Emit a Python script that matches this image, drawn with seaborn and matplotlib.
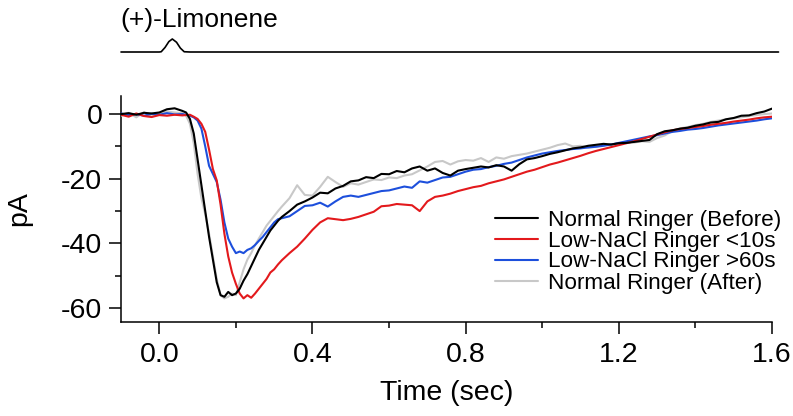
import matplotlib
matplotlib.use("Agg")
import matplotlib.pyplot as plt
import seaborn as sns
import pandas as pd
import numpy as np

# sampling times (sec): coarse baseline, fine during the fast drop, coarse recovery
t_base = [-0.10, -0.08, -0.06, -0.04, -0.02, 0.00, 0.02, 0.04, 0.06]
t_fast = [0.07, 0.08, 0.09, 0.10, 0.11, 0.12, 0.13, 0.14, 0.15, 0.16, 0.17, 0.18, 0.19,
          0.20, 0.21, 0.22, 0.23, 0.24, 0.25, 0.26, 0.27, 0.28, 0.29, 0.30, 0.31]
t_slow = list(np.round(np.arange(0.32, 1.6001, 0.02), 2))
t = t_base + t_fast + t_slow

# Normal Ringer (Before) - black
before = [0.0, 0.3, -0.2, 0.4, 0.2, 0.5, 1.5, 1.8, 1.0,
          0.5, -1.5, -6, -14, -22, -30, -38, -45, -52, -56, -56.5, -55, -56,
          -55.5, -54, -51.5, -49.5, -47, -44.5, -42, -40, -38, -36, -34.5, -33,
          -31.8, -30, -28, -27, -25.8, -24.3, -24.5, -23, -22.2, -20.8, -20.5, -19.5,
          -19.8, -18.5, -18.6, -17.6, -18, -16.8, -16.2, -17.5, -16.8, -18.2, -19,
          -17.5, -17, -16.6, -16.2, -16.5, -15.8, -16.2, -17.5, -15.5, -14, -13.6,
          -13, -12.3, -11.8, -11.2, -10.6, -10.3, -9.8, -9.5, -9.2, -9.4, -9.0, -8.9,
          -8.6, -8.3, -8.0, -6.2, -5.3, -5.0, -4.5, -4.2, -3.6, -3.2, -2.6, -2.4,
          -1.6, -1.2, -0.5, -0.4, 0.3, 0.8, 1.7]

# Low-NaCl Ringer <10s - red
low10 = [-0.2, -0.8, 0.2, -0.6, -0.9, -0.3, -0.5, -0.2, -0.4,
         -0.3, -0.2, -0.8, -1.5, -3, -5.5, -11, -17, -20.5, -28, -37, -44, -49,
         -52.5, -55.5, -57, -56, -56.8, -55.5, -54, -52.5, -51, -49, -48, -46.5,
         -45.2, -43, -41, -38.5, -35.8, -33.5, -32.2, -32.5, -32.8, -32.4, -31.8,
         -31, -30.2, -28.5, -28.3, -27.8, -28, -28.2, -30, -27, -25.6, -25.2, -24.6,
         -23.8, -23.2, -22.6, -22.2, -21.4, -20.8, -20.2, -19.4, -18.6, -17.8, -17.2,
         -16.4, -15.6, -15, -14.3, -13.6, -12.9, -12.1, -11.4, -10.8, -10.2, -9.6,
         -9.0, -8.4, -7.7, -7.0, -6.3, -5.6, -5.0, -4.6, -4.3, -4.0, -3.7, -3.3,
         -3.0, -2.7, -2.3, -2.0, -1.7, -1.3, -1.0, -0.8]

# Low-NaCl Ringer >60s - blue
low60 = [0.2, -0.3, 0.0, -0.5, 0.1, -0.2, 0.3, -0.1, 0.0,
         -0.2, -0.5, -1, -2, -4.5, -10, -16, -18.5, -21, -26.5, -33.5, -38.5, -41,
         -43, -42.5, -43, -42, -41.5, -40.5, -39.2, -38, -36.5, -35, -33.5, -32.5,
         -32.2, -31.6, -30, -28.4, -28.2, -27.4, -28.6, -27, -25.6, -25.2, -25.6,
         -25, -24.4, -23.8, -23.6, -23, -22.4, -22.8, -20.8, -21.2, -20.4, -19.6,
         -19.4, -18.6, -17.8, -17.2, -17, -16.4, -16, -15.4, -15, -14.2, -13.4,
         -12.8, -12.2, -11.8, -11.4, -11.1, -10.8, -10.6, -10.3, -10.1, -9.8, -9.4,
         -8.9, -8.4, -7.9, -7.4, -6.9, -6.5, -6.0, -5.5, -5.2, -4.8, -4.6, -4.3,
         -3.9, -3.5, -3.2, -2.9, -2.6, -2.3, -2.0, -1.6, -1.3]

# Normal Ringer (After) - grey
after = [-0.5, 0.4, -1.0, 0.6, -0.8, 0.2, 0.8, 0.5, 0.3,
         -0.5, -3, -9, -18.5, -26, -31, -37, -44, -51, -56, -57, -56.5, -55.5,
         -56, -52, -48, -45, -43, -40.5, -38.5, -36.5, -34.5, -33, -31.5, -30,
         -28.6, -26, -22, -25, -25.2, -22.5, -19.4, -21, -22.5, -21.4, -21.8, -21,
         -20.2, -20.4, -19.6, -19.8, -19, -18.6, -17.4, -16.2, -14.8, -14.5, -15.6,
         -14.6, -14.2, -14.4, -13.6, -14.8, -13.4, -13.8, -13, -12.6, -12.2, -11.6,
         -11, -10.4, -9.6, -9.1, -10, -9.8, -10.4, -10.1, -9.6, -9.4, -9.1, -8.6,
         -8.8, -8.4, -8.6, -7.4, -6.6, -5.2, -4.4, -4.0, -3.4, -3.0, -2.4, -2.0,
         -1.6, -1.3, -1.0, -0.6, -0.3, 0.0, 0.2]

labels = ["Normal Ringer (Before)", "Low-NaCl Ringer <10s",
          "Low-NaCl Ringer >60s", "Normal Ringer (After)"]
colors = ["#000000", "#e3191c", "#1d4fdc", "#c8c8c8"]
series = [before, low10, low60, after]

# odour stimulus trace
t_stim = [-0.10, 0.00, 0.005, 0.015, 0.025, 0.034, 0.045, 0.055, 0.065, 0.08, 0.5, 1.0, 1.617]
stim = [0.0, 0.0, 0.02, 0.35, 0.8, 1.0, 0.75, 0.3, 0.02, 0.0, 0.0, 0.0, 0.0]

df = pd.DataFrame({"Time": t * 4,
                   "pA": before + low10 + low60 + after,
                   "cond": sum([[l] * len(t) for l in labels], [])})

sns.set_style("ticks")
plt.rcParams["font.family"] = ["Liberation Sans", "DejaVu Sans"]
plt.rcParams["axes.unicode_minus"] = False
for k in ["text.color", "axes.labelcolor", "xtick.color", "ytick.color", "axes.edgecolor"]:
    plt.rcParams[k] = "black"

W, H = 793, 416
fig = plt.figure(figsize=(W / 100, H / 100), dpi=100)
ax = fig.add_axes([121 / W, 1 - 322 / H, 651 / W, 226 / H])

# grey drawn first, black last, as in the original
draw_order = [3, 2, 1, 0]
for i in draw_order:
    sub = df[df.cond == labels[i]]
    sns.lineplot(data=sub, x="Time", y="pA", color=colors[i], lw=1.5,
                 estimator=None, ax=ax, label=labels[i], zorder=10 - i)

ax.set_xlim(-0.1, 1.6)
ax.set_ylim(-64.3, 5.6)
ax.set_xticks([0, 0.4, 0.8, 1.2, 1.6])
ax.set_xticklabels(["0.0", "0.4", "0.8", "1.2", "1.6"])
ax.set_xticks([0.2, 0.6, 1.0, 1.4], minor=True)
ax.set_yticks([0, -20, -40, -60])
ax.set_yticklabels(["0", "-20", "-40", "-60"])
ax.set_yticks([-10, -30, -50], minor=True)
ax.tick_params(which="major", length=8.5, width=1.1, labelsize=20.5, direction="out")
ax.tick_params(which="minor", length=4.3, width=1.1, direction="out")
ax.tick_params(axis="x", pad=6)
ax.tick_params(axis="y", pad=5)
for s in ["top", "right"]:
    ax.spines[s].set_visible(False)
for s in ["left", "bottom"]:
    ax.spines[s].set_linewidth(1.1)

ax.set_xlabel("Time (sec)", fontsize=20.5)
ax.set_ylabel("pA", fontsize=20.5)
ax.xaxis.set_label_coords(0.5, -0.257)
ax.yaxis.set_label_coords(-0.137, 0.5)

h, l = ax.get_legend_handles_labels()
order = [l.index(x) for x in labels]
ax.legend([h[k] for k in order], [l[k] for k in order], loc="upper left",
          bbox_to_anchor=(495 / W, 1 - 209.5 / H), bbox_transform=fig.transFigure,
          frameon=False, fontsize=16.2, handlelength=1.9, handletextpad=0.45,
          labelspacing=0.0, borderpad=0, borderaxespad=0)

# stimulus panel on top
ax2 = fig.add_axes([121 / W, 1 - 60 / H, 651 / W, 30 / H])
sns.lineplot(x=t_stim, y=stim, color="black", lw=1.2, ax=ax2, estimator=None)
for line in ax2.lines:
    line.set_clip_on(False)
ax2.set_xlim(-0.1, 1.6)
ax2.set_ylim(-0.615, 1.692)
ax2.axis("off")
fig.text(120 / W, 1 - 27 / H, "(+)-Limonene", fontsize=19, va="baseline")

fig.savefig("out.png", dpi=100)
